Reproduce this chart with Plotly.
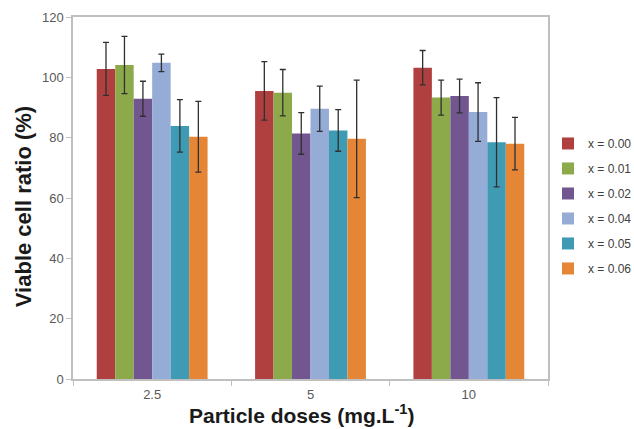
import plotly.graph_objects as go

doses = ["2.5", "5", "10"]
series_names = ["x = 0.00", "x = 0.01", "x = 0.02", "x = 0.04", "x = 0.05", "x = 0.06"]
values = {
    "x = 0.00": [102.8, 95.5, 103.2],
    "x = 0.01": [104.1, 94.9, 93.3],
    "x = 0.02": [92.9, 81.4, 93.8],
    "x = 0.04": [104.8, 89.6, 88.5],
    "x = 0.05": [83.9, 82.4, 78.5],
    "x = 0.06": [80.3, 79.6, 78.0],
}
errors = {
    "x = 0.00": [8.8, 9.7, 5.7],
    "x = 0.01": [9.5, 7.7, 5.8],
    "x = 0.02": [5.8, 6.9, 5.6],
    "x = 0.04": [2.9, 7.5, 9.7],
    "x = 0.05": [8.7, 6.9, 14.8],
    "x = 0.06": [11.7, 19.5, 8.7],
}
colors = ["#B0403F", "#8DAA4B", "#71568F", "#94ACD6", "#3E9BB3", "#E58637"]
x_title = "<b>Particle doses (mg.L<sup>-1</sup>)</b>"
y_title = "<b>Viable cell ratio (%)</b>"

fig = go.Figure()
for name, col in zip(series_names, colors):
    fig.add_trace(go.Bar(
        name=name, x=doses, y=values[name],
        marker=dict(color=col, line=dict(width=0)),
        error_y=dict(type="data", array=errors[name], visible=True,
                     color="#303030", thickness=1.3, width=3),
        legendgroup=name,
    ))

font_family = "Liberation Sans, Arial, sans-serif"
fig.update_layout(
    width=634, height=429,
    margin=dict(l=73, r=86, t=17, b=50, autoexpand=False),
    paper_bgcolor="white", plot_bgcolor="white",
    barmode="group", bargap=0.3, bargroupgap=0,
    font=dict(family=font_family, color="#595959", size=13),
    showlegend=True,
    legend=dict(x=1.0, xanchor="left", y=0.478, yanchor="middle",
                font=dict(size=12, color="#404040"),
                tracegroupgap=6, bgcolor="rgba(0,0,0,0)"),
    xaxis=dict(
        type="category", showline=True, linecolor="#BFBFBF", linewidth=1.5,
        mirror=True, ticks="outside", tickson="boundaries", ticklen=5,
        tickcolor="#BFBFBF", showgrid=False, automargin=False,
        ticklabelstandoff=3,
        tickfont=dict(size=13, color="#595959"),
    ),
    yaxis=dict(
        range=[0, 120], dtick=20, showline=True, linecolor="#BFBFBF",
        linewidth=1.5, mirror=True, ticks="outside", ticklen=5,
        tickcolor="#BFBFBF", showgrid=False, zeroline=False, automargin=False,
        tickfont=dict(size=13, color="#595959"),
    ),
    annotations=[
        dict(text=x_title, xref="paper", yref="paper", x=0.48, y=-0.097,
             xanchor="center", yanchor="middle", showarrow=False,
             font=dict(size=21, color="#1a1a1a")),
        dict(text=y_title, xref="paper", yref="paper", x=-0.105, y=0.475,
             xanchor="center", yanchor="middle", showarrow=False, textangle=-90,
             font=dict(size=22, color="#1a1a1a")),
    ],
)

fig.write_html("out.html", post_script="document.body.style.margin='0';",
               config={"displayModeBar": False})
